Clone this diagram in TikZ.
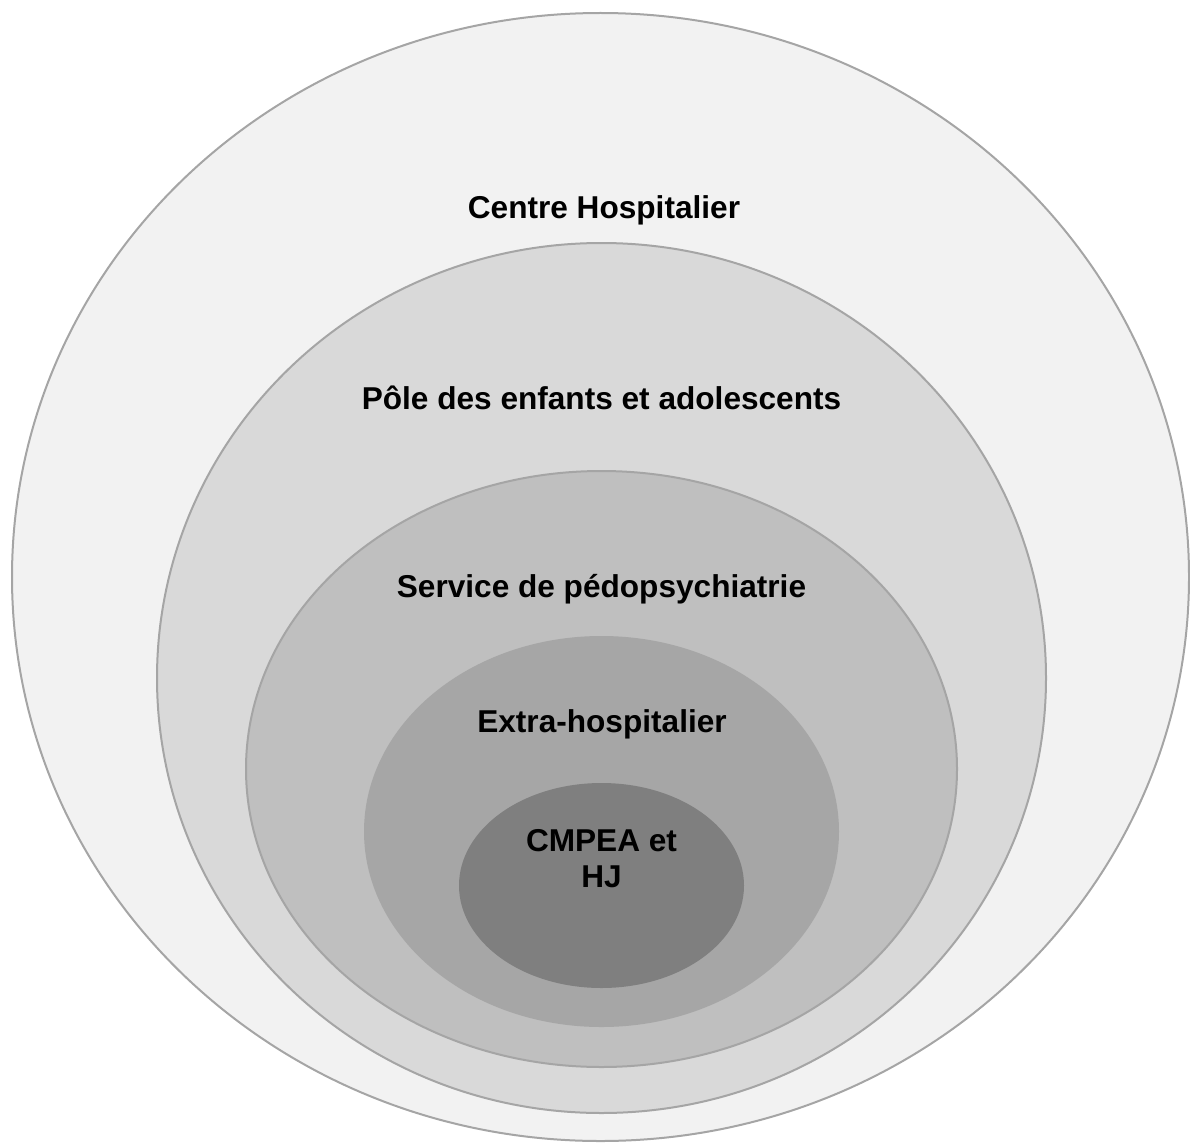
\documentclass[tikz,border=0pt]{standalone}
\usepackage{fontspec}
\setmainfont{Liberation Sans}
\definecolor{edgegray}{HTML}{A5A5A5}
\definecolor{fillA}{HTML}{F2F2F2}
\definecolor{fillB}{HTML}{D9D9D9}
\definecolor{fillC}{HTML}{BFBFBF}
\definecolor{fillD}{HTML}{A6A6A6}
\definecolor{fillE}{HTML}{7F7F7F}
\begin{document}
\begin{tikzpicture}[x=1pt,y=-1pt,
  ring/.style={draw=edgegray,line width=2pt},
  lbl/.style={font=\fontsize{31.6}{36}\selectfont\bfseries,inner sep=0pt,anchor=base,align=center,text=black}]
\useasboundingbox (0,0) rectangle (1190,1142);
\path[ring,fill=fillA] (600.5,577) ellipse [x radius=588.5,y radius=564];
\path[ring,fill=fillB] (601.5,678) ellipse [x radius=444.5,y radius=435];
\path[ring,fill=fillC] (601.5,769) ellipse [x radius=355.5,y radius=298];
\path[fill=fillD] (601.5,831.5) ellipse [x radius=237.5,y radius=195.5];
\path[fill=fillE] (601.5,885.5) ellipse [x radius=142.5,y radius=102.5];
\node[lbl] (ch) at (604,218) {Centre Hospitalier};
\node[lbl] (pole) at (601.5,409) {Pôle des enfants et adolescents};
\node[lbl] (serv) at (601.5,597) {Service de pédopsychiatrie};
\node[lbl] (extra) at (602,732) {Extra-hospitalier};
\node[lbl] (cmpea) at (601.5,887) {CMPEA et\\HJ};
\end{tikzpicture}
\end{document}
